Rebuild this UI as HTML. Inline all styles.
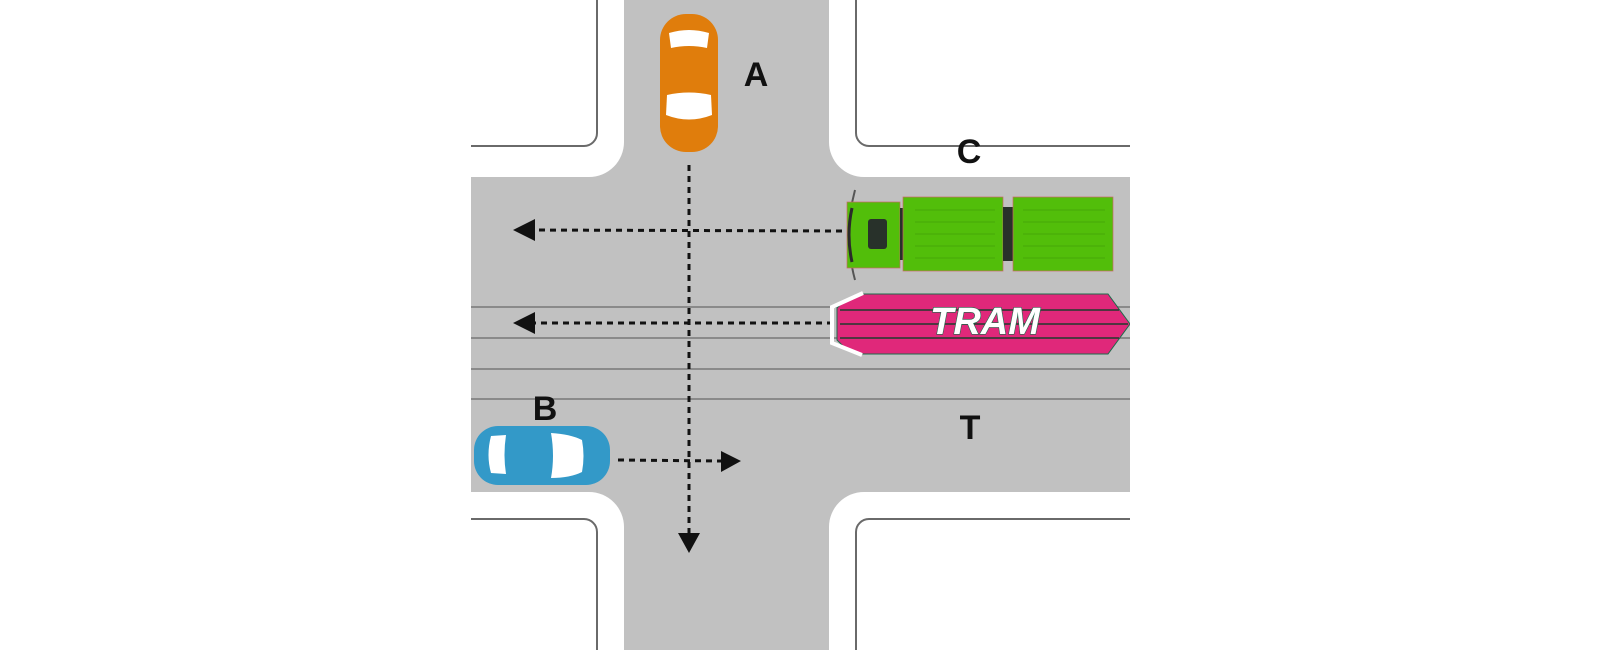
<!DOCTYPE html>
<html><head><meta charset="utf-8"><style>
html,body{margin:0;padding:0;background:#fff;width:1600px;height:650px;overflow:hidden}
svg{display:block}
text{font-family:"Liberation Sans",sans-serif;font-weight:bold}
</style></head><body>
<svg width="1600" height="650" viewBox="0 0 1600 650">
<defs><clipPath id="c"><rect x="471" y="0" width="659" height="650"/></clipPath></defs>
<g clip-path="url(#c)">
<rect x="471" y="0" width="659" height="650" fill="#c1c1c1"/>
<g fill="#fff">
<path d="M471,0 H624 V142 A35,35 0 0 1 589,177 H471 Z"/>
<path d="M829,0 H1130 V177 H864 A35,35 0 0 1 829,142 Z"/>
<path d="M471,492 H589 A35,35 0 0 1 624,527 V650 H471 Z"/>
<path d="M1130,492 H864 A35,35 0 0 0 829,527 V650 H1130 Z"/>
</g>
<g fill="none" stroke="#6a6a6a" stroke-width="2">
<path d="M597,0 V133 A13,13 0 0 1 584,146 H471"/>
<path d="M856,0 V133 A13,13 0 0 0 869,146 H1130"/>
<path d="M471,519 H584 A13,13 0 0 1 597,532 V650"/>
<path d="M1130,519 H869 A13,13 0 0 0 856,532 V650"/>
</g>
<g stroke="#8a8a8a" stroke-width="2">
<line x1="471" y1="307" x2="1130" y2="307"/>
<line x1="471" y1="338" x2="1130" y2="338"/>
<line x1="471" y1="369" x2="1130" y2="369"/>
<line x1="471" y1="399" x2="1130" y2="399"/>
</g>
<g stroke="#111" stroke-width="3" stroke-dasharray="6,5" fill="none">
<line x1="689" y1="165" x2="689" y2="535"/>
<line x1="842" y1="231" x2="530" y2="230"/>
<line x1="833" y1="323" x2="530" y2="323"/>
<line x1="618" y1="460" x2="722" y2="461"/>
</g>
<g fill="#111">
<polygon points="513,230 535,219 535,241"/>
<polygon points="513,323 535,312 535,334"/>
<polygon points="741,461 721,451 721,472"/>
<polygon points="689,553 678,533 700,533"/>
</g>
<rect x="660" y="14" width="58" height="138" rx="26" fill="#e07d0c"/>
<path d="M669,33 Q689,27 709,33 L707,48 Q689,44 671,48 Z" fill="#fff"/>
<path d="M667,95 Q689,90 711,95 L712,115 Q689,124 666,115 Z" fill="#fff"/>
<rect x="474" y="426" width="136" height="59" rx="24" fill="#3399c8"/>
<path d="M491,436 L506,435 Q503,455 506,474 L491,473 Q486,455 491,436 Z" fill="#fff"/>
<path d="M551,433 Q570,434 582,440 Q585,456 582,472 Q570,478 551,478 Q555,456 551,433 Z" fill="#fff"/>
<path d="M855,190 Q843,235 855,280" fill="none" stroke="#555" stroke-width="2"/>
<rect x="847" y="202" width="53" height="66" fill="#52be0a" stroke="#c66" stroke-width="0.7"/>
<path d="M852,208 Q846,235 852,262" fill="none" stroke="#2a2a2a" stroke-width="3"/>
<rect x="868" y="219" width="19" height="30" rx="3" fill="#28312a"/>
<rect x="900" y="208" width="5" height="52" fill="#28312a"/>
<rect x="903" y="197" width="100" height="74" fill="#52be0a" stroke="#c66" stroke-width="0.7"/>
<rect x="1003" y="207" width="10" height="54" fill="#28312a"/>
<rect x="1013" y="197" width="100" height="74" fill="#52be0a" stroke="#c66" stroke-width="0.7"/>
<g stroke="#47a808" stroke-width="1">
<line x1="915" y1="210" x2="995" y2="210"/><line x1="915" y1="222" x2="995" y2="222"/><line x1="915" y1="234" x2="995" y2="234"/><line x1="915" y1="246" x2="995" y2="246"/><line x1="915" y1="258" x2="995" y2="258"/>
<line x1="1023" y1="210" x2="1105" y2="210"/><line x1="1023" y1="222" x2="1105" y2="222"/><line x1="1023" y1="234" x2="1105" y2="234"/><line x1="1023" y1="246" x2="1105" y2="246"/><line x1="1023" y1="258" x2="1105" y2="258"/>
</g>
<polygon points="845,300 863,294 1108,294 1130,324 1108,354 863,354 845,348 837,340 837,308" fill="#e0287a" stroke="#1d6b4a" stroke-width="1"/>
<g stroke="#1f3a2c" stroke-width="1.5">
<line x1="840" y1="310" x2="1119" y2="310"/>
<line x1="840" y1="324" x2="1128" y2="324"/>
<line x1="840" y1="338" x2="1119" y2="338"/>
</g>
<polyline points="863,293 832,307 832,343 862,355" fill="none" stroke="#fff" stroke-width="4"/>
<text x="985" y="334" font-size="38" font-style="italic" text-anchor="middle" fill="#fff" stroke="#1d6b4a" stroke-width="1.2" paint-order="stroke">TRAM</text>
<g font-size="34" fill="#111" text-anchor="middle">
<text x="756" y="86">A</text>
<text x="969" y="163">C</text>
<text x="545" y="420">B</text>
<text x="970" y="439">T</text>
</g>
</g>
</svg>
</body></html>
